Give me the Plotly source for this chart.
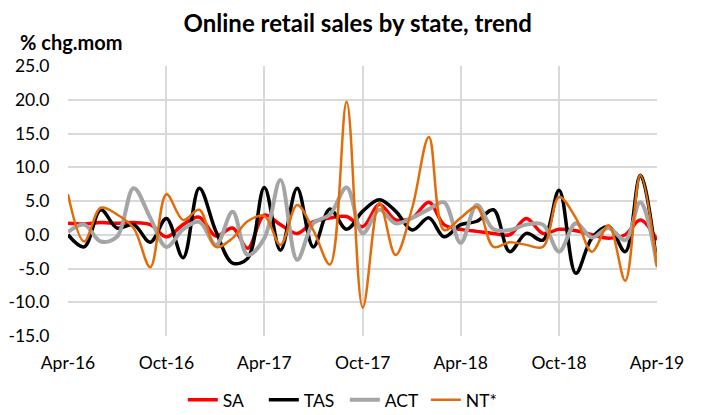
import plotly.graph_objects as go
import pandas as pd

months = pd.date_range("2016-04-01", "2019-04-01", freq="MS").strftime("%Y-%m-%d").tolist()

sa = [1.7, 1.6, 1.8, 1.7, 1.8, 1.5, -0.3, 1.5, 2.6, -0.2, 1.0, -2.0, 2.9, 1.5, 0.2, 1.9, 2.5, 2.7,
      1.2, 4.5, 2.2, 2.5, 4.8, 1.5, 0.8, 0.5, 0.2, 0.0, 2.4, 0.2, 0.8, 0.6, 0.0, -0.5, 0.0, 2.2, -0.8]
tas = [0.0, -1.8, 3.7, 1.0, 1.5, -1.1, 2.4, -3.4, 6.9, 0.5, -4.2, -3.5, 7.0, -2.3, 6.9, -1.8, 3.8, 0.8,
       3.5, 5.2, 3.5, 0.7, 2.5, -0.3, 1.5, 2.0, 3.7, -2.5, 0.2, -0.8, 6.6, -5.7, -0.5, 1.2, -2.5, 8.8, -4.5]
act = [0.4, 1.5, -1.0, -0.3, 6.9, 2.5, -1.8, 0.8, 1.9, -1.5, 3.4, -3.0, -0.5, 8.1, -3.7, 1.7, 3.0, 7.0,
       0.2, 3.7, 1.7, 2.5, 3.8, 4.8, -1.2, 4.4, 0.8, 0.7, 1.5, 1.5, -2.5, 1.7, -0.4, 1.0, -0.8, 4.8, -4.5]
nt = [6.0, -1.0, 4.0, 3.0, 1.0, -4.8, 6.0, 2.2, 3.7, -1.8, -0.5, 2.0, 2.8, -1.5, 4.4, 0.7, -4.4, 19.7,
      -10.8, 4.7, -3.0, 4.0, 14.5, 0.7, 2.5, 4.1, -1.8, -1.1, -1.5, -1.8, 5.6, 2.5, -2.5, 1.4, -6.8, 8.8, -4.8]

series = [
    ("SA", sa, "#ff0000", 3.5),
    ("TAS", tas, "#000000", 3.5),
    ("ACT", act, "#a5a5a5", 4),
    ("NT*", nt, "#e36c0a", 2.5),
]

x_tick_vals = ["2016-04-01", "2016-10-01", "2017-04-01", "2017-10-01", "2018-04-01", "2018-10-01", "2019-04-01"]
x_tick_text = ["Apr-16", "Oct-16", "Apr-17", "Oct-17", "Apr-18", "Oct-18", "Apr-19"]
y_tick_vals = [-15, -10, -5, 0, 5, 10, 15, 20, 25]
y_tick_text = ["-15.0", "-10.0", "-5.0", "0.0", "5.0", "10.0", "15.0", "20.0", "25.0"]

fig = go.Figure()
for name, vals, color, w in series:
    fig.add_trace(go.Scatter(x=months, y=vals, name=name, mode="lines",
                             line=dict(color=color, width=w, shape="spline", smoothing=1.0)))

FONT = "Lato, Open Sans, sans-serif"
# page body has an 8px margin, so the figure is sized to fit the 703x415 window
fig.update_layout(
    width=695, height=407,
    margin=dict(l=60, r=46, t=58, b=79, autoexpand=False),
    paper_bgcolor="white", plot_bgcolor="white",
    font=dict(family=FONT, size=17.5, color="#000000"),
    title=dict(text="<b>Online retail sales by state, trend</b>", x=0.492, xanchor="center",
               xref="paper", yref="container", y=1.0, yanchor="top", pad=dict(t=7, b=0),
               font=dict(size=24, family=FONT)),
    showlegend=True,
    legend=dict(orientation="h", x=0.47, xanchor="center", y=-0.237, yanchor="middle",
                font=dict(size=17.5), tracegroupgap=0, entrywidth=36, entrywidthmode="pixels"),
    xaxis=dict(type="date", range=["2016-04-01", "2019-04-01"], tickvals=x_tick_vals, ticktext=x_tick_text,
               showgrid=True, gridcolor="#d9d9d9", gridwidth=1.5, zeroline=False, showline=False,
               ticks="outside", ticklen=0, ticklabelstandoff=11, automargin=False),
    yaxis=dict(range=[-15, 25], tickvals=y_tick_vals, ticktext=y_tick_text, showgrid=True,
               gridcolor="#d9d9d9", gridwidth=1.5, zeroline=False, showline=False,
               ticks="outside", ticklen=0, ticklabelstandoff=14, automargin=False),
    annotations=[dict(text="<b>% chg.mom</b>", xref="paper", yref="paper", x=-0.085, y=1.0,
                      xanchor="left", yanchor="bottom", yshift=10, showarrow=False,
                      font=dict(size=20, family=FONT))],
)

fig.write_html("out.html")
